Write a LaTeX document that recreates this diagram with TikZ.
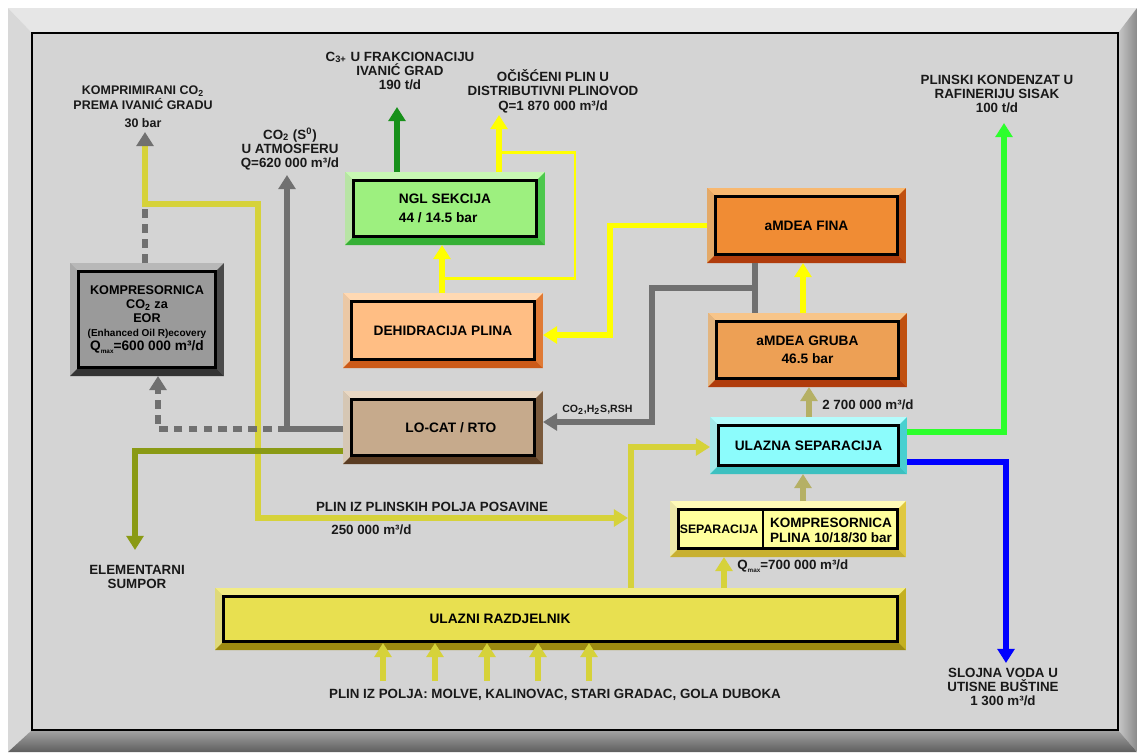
\documentclass[tikz,border=0pt]{standalone}
\usepackage{fontspec}
\setmainfont{Liberation Sans}
\usetikzlibrary{arrows.meta}
% frame
\definecolor{bgc}{HTML}{D4D4D4}
\definecolor{frT}{HTML}{E6E6E6}
\definecolor{frL}{HTML}{D8D8D8}
\definecolor{frRa}{HTML}{C8C8C8}
\definecolor{frRb}{HTML}{8A8A8A}
\definecolor{frBa}{HTML}{A4A4A4}
\definecolor{frBb}{HTML}{5E5E5E}
% boxes
\definecolor{nglF}{HTML}{9DF07F}\definecolor{nglL}{HTML}{C8F8B4}\definecolor{nglR}{HTML}{4CC84C}\definecolor{nglB}{HTML}{36B036}
\definecolor{dhF}{HTML}{FFBE84}\definecolor{dhL}{HTML}{FFD9B3}\definecolor{dhR}{HTML}{E07A35}\definecolor{dhB}{HTML}{CC5A18}
\definecolor{lcF}{HTML}{C6AA8C}\definecolor{lcL}{HTML}{E9D8C4}\definecolor{lcR}{HTML}{7A5A3C}\definecolor{lcB}{HTML}{5A3C22}
\definecolor{fnF}{HTML}{F08C34}\definecolor{fnL}{HTML}{F8B870}\definecolor{fnR}{HTML}{C05010}\definecolor{fnB}{HTML}{B03C0C}
\definecolor{grF}{HTML}{EDA055}\definecolor{grL}{HTML}{F7C58A}\definecolor{grR}{HTML}{C05010}\definecolor{grB}{HTML}{B03C0C}
\definecolor{ulF}{HTML}{8CFCFC}\definecolor{ulL}{HTML}{B4FCFC}\definecolor{ulR}{HTML}{48D0D0}\definecolor{ulB}{HTML}{3CC0C0}
\definecolor{spF}{HTML}{FFFF9C}\definecolor{spL}{HTML}{FFFBB8}\definecolor{spR}{HTML}{E0C840}\definecolor{spB}{HTML}{C8B030}
\definecolor{rzF}{HTML}{E8E050}\definecolor{rzL}{HTML}{F2EC84}\definecolor{rzR}{HTML}{C4B020}\definecolor{rzB}{HTML}{9C8A10}
\definecolor{kpF}{HTML}{9A9A9A}\definecolor{kpL}{HTML}{B8B8B8}\definecolor{kpR}{HTML}{4A4A4A}\definecolor{kpB}{HTML}{333333}
% lines
\definecolor{cgr}{HTML}{707070}
\definecolor{cyl}{HTML}{FFFF00}
\definecolor{cyk}{HTML}{D6D23A}
\definecolor{ckh}{HTML}{B5B065}
\definecolor{col}{HTML}{8A9A14}
\definecolor{cdg}{HTML}{17901A}
\definecolor{cbg}{HTML}{2CFF2C}
\definecolor{cbl}{HTML}{0000FF}

\newcommand\bxf{\fontsize{7.8}{9}\selectfont\bfseries}
\newcommand\kpf{\fontsize{7.2}{8}\selectfont\bfseries}
\newcommand\lbf{\fontsize{7.6}{8.2}\selectfont\bfseries}
\newcommand\lbs{\fontsize{7.1}{8.4}\selectfont\bfseries}
\newcommand\qmx{Q\raisebox{-0.35ex}{\fontsize{3.6}{4}\selectfont max}}

\tikzset{
  bev/.style n args={4}{fill=#1, inner sep=0pt, outer sep=0pt, align=center, font=\bxf,
    path picture={
      \coordinate (bNW) at (path picture bounding box.north west);
      \coordinate (bNE) at (path picture bounding box.north east);
      \coordinate (bSW) at (path picture bounding box.south west);
      \coordinate (bSE) at (path picture bounding box.south east);
      \fill[#2] (bNW) -- (bNE) -- ([shift={(-8,8)}]bNE) -- ([shift={(8,8)}]bNW) -- cycle;
      \fill[#2!92!black] (bNW) -- ([shift={(8,8)}]bNW) -- ([shift={(8,-8)}]bSW) -- (bSW) -- cycle;
      \fill[#3] (bNE) -- (bSE) -- ([shift={(-8,-8)}]bSE) -- ([shift={(-8,8)}]bNE) -- cycle;
      \fill[#4] (bSW) -- (bSE) -- ([shift={(-8,-8)}]bSE) -- ([shift={(8,-8)}]bSW) -- cycle;
      \draw[line width=1.6pt, fill=#1] ([shift={(8.5,8.5)}]bNW) rectangle ([shift={(-8.5,-8.5)}]bSE);
    }},
  lbl/.style={font=\lbf, align=center, inner sep=0pt, text=black!90},
  thk/.style={line width=2.9pt},
  thn/.style={line width=1.7pt},
}
\newcommand\bvbox[7]{\node[#6, minimum width={(#4-#2)*0.569055pt}, minimum height={(#5-#3)*0.569055pt}] (#1) at ({(#2+#4)/2},{(#3+#5)/2}) {#7};}

\begin{document}
\begin{tikzpicture}[x=0.02cm,y=-0.02cm,>={Triangle[length=8pt,width=9.5pt]}]
\useasboundingbox (0,0) rectangle (1137,752);
\fill[white] (0,0) rectangle (1137,752);
% frame
\fill[frT] (8,8) -- (1137,8) -- (1118,33) -- (32,33) -- cycle;
\fill[frL] (8,8) -- (32,33) -- (32,730) -- (8,752) -- cycle;
\shade[left color=frRa, right color=frRb] (1137,8) -- (1137,752) -- (1118,730) -- (1118,33) -- cycle;
\shade[top color=frBa, bottom color=frBb] (8,752) -- (32,730) -- (1118,730) -- (1137,752) -- cycle;
\filldraw[fill=bgc, draw=black, line width=1.4pt] (32,33) rectangle (1118,730);

% boxes
\bvbox{ngl}{345}{172}{545}{245}{bev={nglF}{nglL}{nglR}{nglB}, align=left}{NGL SEKCIJA\\[1.5pt]44 / 14.5 bar}
\bvbox{dehid}{343}{293}{543}{368}{bev={dhF}{dhL}{dhR}{dhB}}{DEHIDRACIJA PLINA}
\bvbox{locat}{343}{391}{543}{464}{bev={lcF}{lcL}{lcR}{lcB}}{\hspace{9pt}LO-CAT / RTO}
\bvbox{fina}{707}{188}{906}{263}{bev={fnF}{fnL}{fnR}{fnB}}{aMDEA FINA}
\bvbox{gruba}{708}{313}{907}{387}{bev={grF}{grL}{grR}{grB}}{aMDEA GRUBA\\[1.5pt]46.5 bar}
\bvbox{ulazna}{710}{417}{907}{474}{bev={ulF}{ulL}{ulR}{ulB}}{ULAZNA SEPARACIJA}
\bvbox{sep}{670}{501}{906}{557}{bev={spF}{spL}{spR}{spB}}{}
\bvbox{raz}{215}{588}{906}{650}{bev={rzF}{rzL}{rzR}{rzB}}{}
\bvbox{komp}{70}{263}{224}{376}{bev={kpF}{kpL}{kpR}{kpB}, font=\kpf}{KOMPRESORNICA\\CO\textsubscript{2} za\\EOR\\{\fontsize{5.7}{8}\selectfont (Enhanced Oil R)ecovery}\\{\fontsize{7.8}{8}\selectfont \qmx=600 000 m³/d}}

\draw[line width=1.6pt] (763,508.5) -- (763,549.5);
\node[font=\fontsize{7}{8}\selectfont\bfseries, inner sep=0pt] (septx) at (719,529) {SEPARACIJA};
\node[font=\fontsize{7.7}{8.6}\selectfont\bfseries, align=center, inner sep=0pt] (kmptx) at (831,530) {KOMPRESORNICA\\PLINA 10/18/30 bar};
\node[font=\bxf, inner sep=0pt] (raztx) at (500,619) {ULAZNI RAZDJELNIK};

% labels
\node[lbl, font=\lbs] (kclbl) at (143,107) {KOMPRIMIRANI CO\textsubscript{2}\\PREMA IVANIĆ GRADU\\[2pt]30 bar};
\node[lbl] (atmlbl) at (290,149) {CO\textsubscript{2} (S\textsuperscript{0})\\U ATMOSFERU\\Q=620 000 m³/d};
\node[lbl] (c3lbl) at (400,71) {C\textsubscript{3+} U FRAKCIONACIJU\\IVANIĆ GRAD\\190 t/d};
\node[lbl] (oclbl) at (553,91) {OČIŠĆENI PLIN U\\DISTRIBUTIVNI PLINOVOD\\Q=1 870 000 m³/d};
\node[lbl] (kdlbl) at (997,94) {PLINSKI KONDENZAT U\\RAFINERIJU SISAK\\100 t/d};
\node[lbl, font=\fontsize{6}{7}\selectfont\bfseries, anchor=west] (gaslbl) at (562,410) {CO\textsubscript{2},H\textsubscript{2}S,RSH};
\node[lbl, anchor=west] (q27lbl) at (822,405) {2 700 000 m³/d};
\node[lbl] (sulbl) at (137,577) {ELEMENTARNI\\SUMPOR};
\node[lbl] (poslbl) at (432,507) {PLIN IZ PLINSKIH POLJA POSAVINE};
\node[lbl, anchor=west] (q25lbl) at (331,530) {250 000 m³/d};
\node[lbl, anchor=west] (q70lbl) at (737,566) {\qmx=700 000 m³/d};
\node[lbl] (pplbl) at (555,695) {PLIN IZ POLJA: MOLVE, KALINOVAC, STARI GRADAC, GOLA DUBOKA};
\node[lbl] (svlbl) at (1003,687) {SLOJNA VODA U\\UTISNE BUŠTINE\\1 300 m³/d};

% free ends
\coordinate (c3tip) at (397,107);
\coordinate (octip) at (499,115);
\coordinate (kctip) at (145,132);
\coordinate (atmtip) at (287,175);
\coordinate (sutip) at (135,550);
\coordinate (kdtip) at (1004,123);
\coordinate (svtip) at (1006,663);

% Posavine gas line
\draw[cyk, thk, ->] (145,141) -- (145,204) -- (258,204) -- (258,518) -- (628,518);
\draw[cgr, line width=2.8pt, ->] (145,146) -- (kctip);
% NGL outputs
\draw[cdg, line width=3.4pt, ->] (ngl.north -| 397,0) -- (c3tip);
\draw[cyl, thk, ->] (ngl.north -| 499,0) -- (octip);
\draw[cyl, thn] (442,278) -- (575,278) -- (575,152) -- (499,152);
\draw[cyl, thk, ->] (dehid.north -| 442,0) -- (ngl.south -| 442,0);
\draw[cyl, thk, ->] (fina.west) -| (610,335) -- (dehid.east |- 0,335);
\draw[cyl, thk, ->] (gruba.north -| 803,0) -- (fina.south -| 803,0);
% acid gas
\draw[cgr, thk] (fina.south -| 755,0) -- (gruba.north -| 755,0);
\draw[cgr, thk, ->] (755,288) -- (652,288) -- (652,422) -- (locat.east |- 0,422);
% main gas
\draw[ckh, thk, ->] (ulazna.north -| 809,0) -- (gruba.south -| 809,0);
\draw[ckh, thk, ->] (sep.north -| 803,0) -- (ulazna.south -| 803,0);
\draw[cyk, thk, ->] (raz.north -| 724,0) -- (sep.south -| 724,0);
\draw[cyk, thk, ->] (raz.north -| 631,0) -- (631,447) -- (ulazna.west |- 0,447);
% LO-CAT outputs
\draw[cgr, thk, ->] (locat.west |- 0,429) -- (287,429) -- (atmtip);
\draw[cgr, thk, dash pattern=on 5pt off 3.5pt, ->] (287,429) -- (158,429) -- (komp.south -| 158,0);
\draw[cgr, thk, dash pattern=on 5pt off 3.5pt] (komp.north -| 145,0) -- (145,204);
\draw[col, thk, ->] (locat.west |- 0,451) -- (135,451) -- (sutip);
% separator outputs
\draw[cbg, thk, ->] (ulazna.east |- 0,432) -- (1004,432) -- (kdtip);
\draw[cbl, thk, ->] (ulazna.east |- 0,462) -- (1006,462) -- (svtip);
% field inputs
\foreach \x in {383,435,487,538,589} \draw[cyk, thk, ->, shorten >=-4pt] (\x,681) -- (raz.south -| \x,0);
\end{tikzpicture}
\end{document}
